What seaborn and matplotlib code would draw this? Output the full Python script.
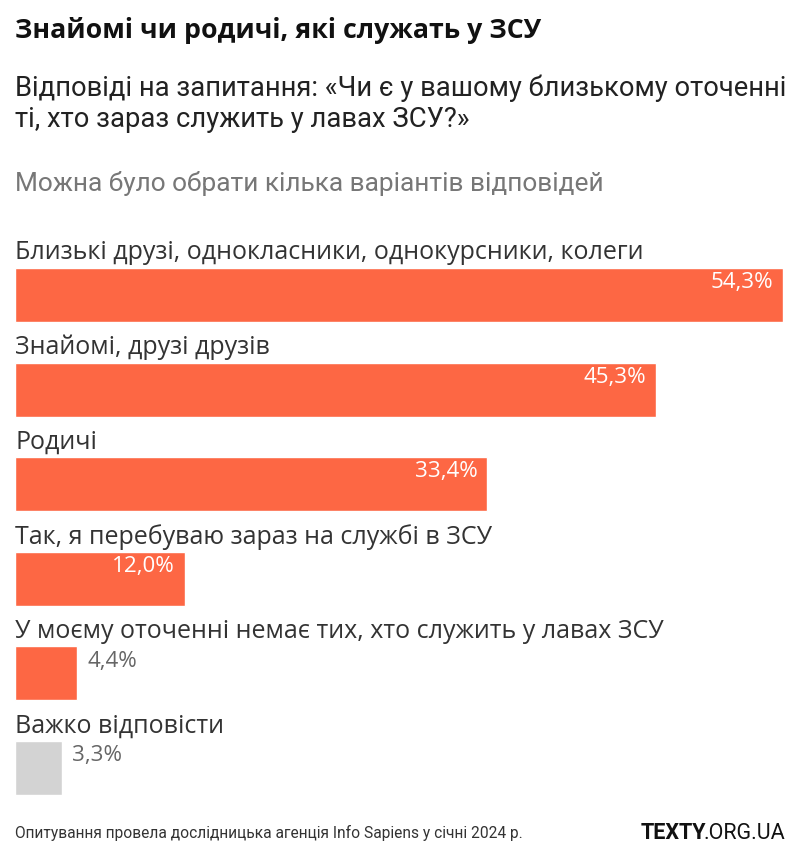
import matplotlib
matplotlib.use("Agg")
import matplotlib.pyplot as plt
import seaborn as sns
import pandas as pd

# data
categories = [
    "Близькі друзі, однокласники, однокурсники, колеги",
    "Знайомі, друзі друзів",
    "Родичі",
    "Так, я перебуваю зараз на службі в ЗСУ",
    "У моєму оточенні немає тих, хто служить у лавах ЗСУ",
    "Важко відповісти",
]
values = [54.3, 45.3, 33.4, 12.0, 4.4, 3.3]
value_labels = ["54,3%", "45,3%", "33,4%", "12,0%", "4,4%", "3,3%"]
bar_colors = ["#fd6744", "#fd6744", "#fd6744", "#fd6744", "#fd6744", "#d3d3d3"]

title = "Знайомі чи родичі, які служать у ЗСУ"
subtitle = "Відповіді на запитання: «Чи є у вашому близькому оточенні\nті, хто зараз служить у лавах ЗСУ?»"
note = "Можна було обрати кілька варіантів відповідей"
footer = "Опитування провела дослідницька агенція Info Sapiens у січні 2024 р."

W, H = 801, 863
WIDE = ["Open Sans", "DejaVu Sans"]
NARROW = ["Roboto", "DejaVu Sans"]

sns.set_theme(style="white")
plt.rcParams["font.family"] = WIDE

df = pd.DataFrame({"category": categories, "value": values})

fig = plt.figure(figsize=(W / 100, H / 100), dpi=100)
fig.patch.set_facecolor("white")
renderer = fig.canvas.get_renderer()


def px(x, y):
    return x / W, 1 - y / H


def fit(t, target):
    # scale the font so the text spans target pixels, like the reference
    w = t.get_window_extent(renderer).width
    t.set_fontsize(t.get_fontsize() * target / w)
    return t


bar_h = 0.572
ax = fig.add_axes([15 / W, 1 - 795 / H, (783 - 15) / W, (795 - 268) / H])
sns.barplot(data=df, x="value", y="category", hue="category", palette=bar_colors,
            orient="h", width=bar_h, legend=False, ax=ax, saturation=1)
ax.set_xlim(0, 54.3)
ax.set_ylim(len(categories) - 1 + bar_h / 2, -bar_h / 2)
ax.axis("off")

cat_texts = []
for i, (cat, v, lab) in enumerate(zip(categories, values, value_labels)):
    cat_texts.append(ax.text(0, i - bar_h / 2 - 0.16, cat, ha="left", va="center",
                             fontsize=15, color="#333333"))
    if v > 8:
        t = ax.text(v - 0.7, i - 0.13, lab, ha="right", va="center",
                    fontsize=14, color="white")
    else:
        t = ax.text(v + 0.75, i - 0.13, lab, ha="left", va="center",
                    fontsize=14, color="#666666")
    if i == 0:
        first_val = t

size = fit(cat_texts[0], 627).get_fontsize()
for t in cat_texts:
    t.set_fontsize(size)
vsize = fit(first_val, 63).get_fontsize()
for t in ax.texts:
    if t not in cat_texts:
        t.set_fontsize(vsize)

fit(fig.text(*px(15, 31), title, ha="left", va="center", fontsize=17,
             fontweight="bold", color="#111111"), 525)
fit(fig.text(*px(15, 104), subtitle, ha="left", va="center", fontsize=17,
             color="#222222", linespacing=1.2, family=NARROW), 770)
fit(fig.text(*px(15, 183), note, ha="left", va="center", fontsize=17,
             color="#777777", family=NARROW), 589)
fit(fig.text(*px(15, 833), footer, ha="left", va="center", fontsize=10.5,
             color="#333333", family=NARROW), 508)

logo1 = fig.text(*px(641, 833), "TEXTY", ha="left", va="center", fontsize=15.5,
                 fontweight="bold", color="#111111", family=NARROW)
bb = logo1.get_window_extent(renderer)
logo2 = fig.text((bb.x1 - 3) / W, 1 - 833 / H, ".ORG.UA", ha="left", va="center",
                 fontsize=15.5, color="#111111", family=NARROW)

fig.savefig("out.png", dpi=100, facecolor="white")
